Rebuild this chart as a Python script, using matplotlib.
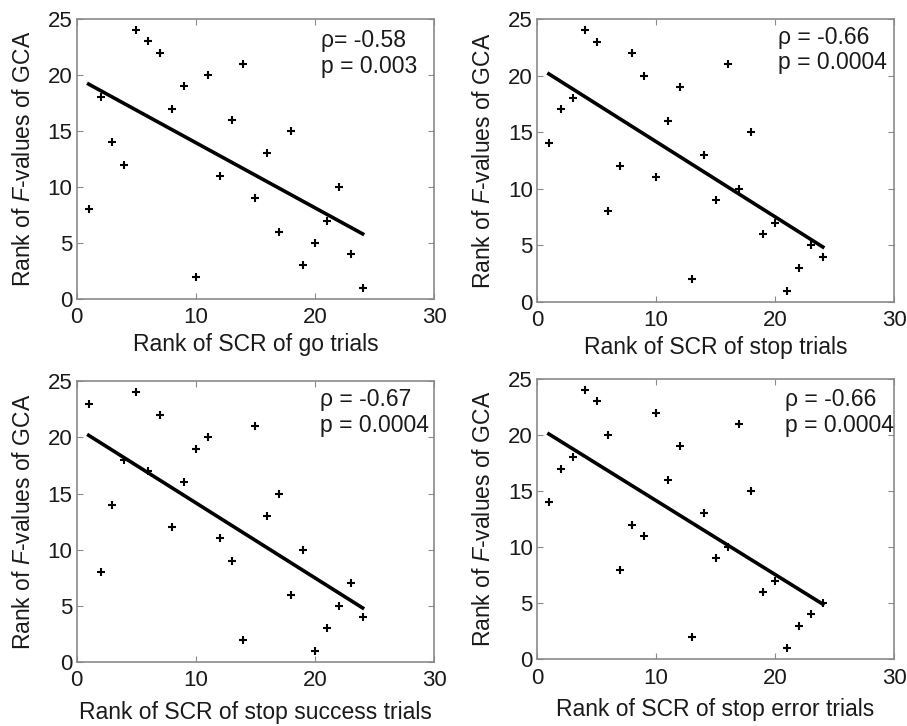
import numpy as np
import matplotlib
matplotlib.use("Agg")
import matplotlib.pyplot as plt

plt.rcParams["font.family"] = ["Liberation Sans", "DejaVu Sans"]
plt.rcParams["mathtext.fontset"] = "custom"
plt.rcParams["mathtext.rm"] = "Liberation Sans"
plt.rcParams["mathtext.it"] = "Liberation Sans:italic"

# rank of SCR (x) is 1..24 in every panel
scr_rank = list(range(1, 25))

gca_go = [8, 18, 14, 12, 24, 23, 22, 17, 19, 2, 20, 11, 16, 21, 9, 13, 6, 15, 3, 5, 7, 10, 4, 1]
gca_stop = [14, 17, 18, 24, 23, 8, 12, 22, 20, 11, 16, 19, 2, 13, 9, 21, 10, 15, 6, 7, 1, 3, 5, 4]
gca_stop_success = [23, 8, 14, 18, 24, 17, 22, 12, 16, 19, 20, 11, 9, 2, 21, 13, 15, 6, 10, 1, 3, 5, 7, 4]
gca_stop_error = [14, 17, 18, 24, 23, 20, 8, 12, 11, 22, 16, 19, 2, 13, 9, 10, 21, 15, 6, 7, 1, 3, 4, 5]

xlabels = ["Rank of SCR of go trials", "Rank of SCR of stop trials",
           "Rank of SCR of stop success trials", "Rank of SCR of stop error trials"]
stats = ["\u03c1= -0.58\np = 0.003", "\u03c1 = -0.66\np = 0.0004",
         "\u03c1 = -0.67\np = 0.0004", "\u03c1 = -0.66\np = 0.0004"]
text_pos = [(20.5, 24.1), (20.2, 24.4), (20.4, 24.4), (20.8, 24.2)]
xlabel_pads = [3, 3, 7, 7]

panels = [gca_go, gca_stop, gca_stop_success, gca_stop_error]
boxes = [[0.0846, 0.588, 0.394, 0.386],
         [0.592, 0.584, 0.394, 0.390],
         [0.0846, 0.088, 0.394, 0.387],
         [0.592, 0.092, 0.394, 0.386]]

fig = plt.figure(figsize=(9.07, 7.26), dpi=100)
grey = "#8a8a8a"
ink = "#1a1a1a"

for i, yvals in enumerate(panels):
    ax = fig.add_axes(boxes[i])
    x = np.array(scr_rank)
    y = np.array(yvals)
    ax.plot(x, y, "+", color="black", markersize=6, mew=1.5)
    slope, icpt = np.polyfit(x, y, 1)
    xl = np.array([x.min(), x.max()])
    ax.plot(xl, slope * xl + icpt, color="black", lw=2.6)
    ax.set_xlim(0, 30)
    ax.set_ylim(0, 25)
    ax.set_xticks([0, 10, 20, 30])
    ax.set_yticks([0, 5, 10, 15, 20, 25])
    for s in ax.spines.values():
        s.set_color(grey)
        s.set_linewidth(1.2)
    ax.tick_params(direction="in", length=4, color=grey, top=True, right=True,
                   labelsize=16, labelcolor=ink)
    ax.tick_params(axis="x", pad=6)
    ax.tick_params(axis="y", pad=3)
    ax.set_xlabel(xlabels[i], fontsize=16.5, color=ink, labelpad=xlabel_pads[i])
    ax.set_ylabel("Rank of $F$-values of GCA", fontsize=16.5, color=ink, labelpad=9)
    ax.text(text_pos[i][0], text_pos[i][1], stats[i], fontsize=16.5, va="top", ha="left",
            color=ink, linespacing=1.15, clip_on=False)

fig.savefig("out.png", dpi=100)
